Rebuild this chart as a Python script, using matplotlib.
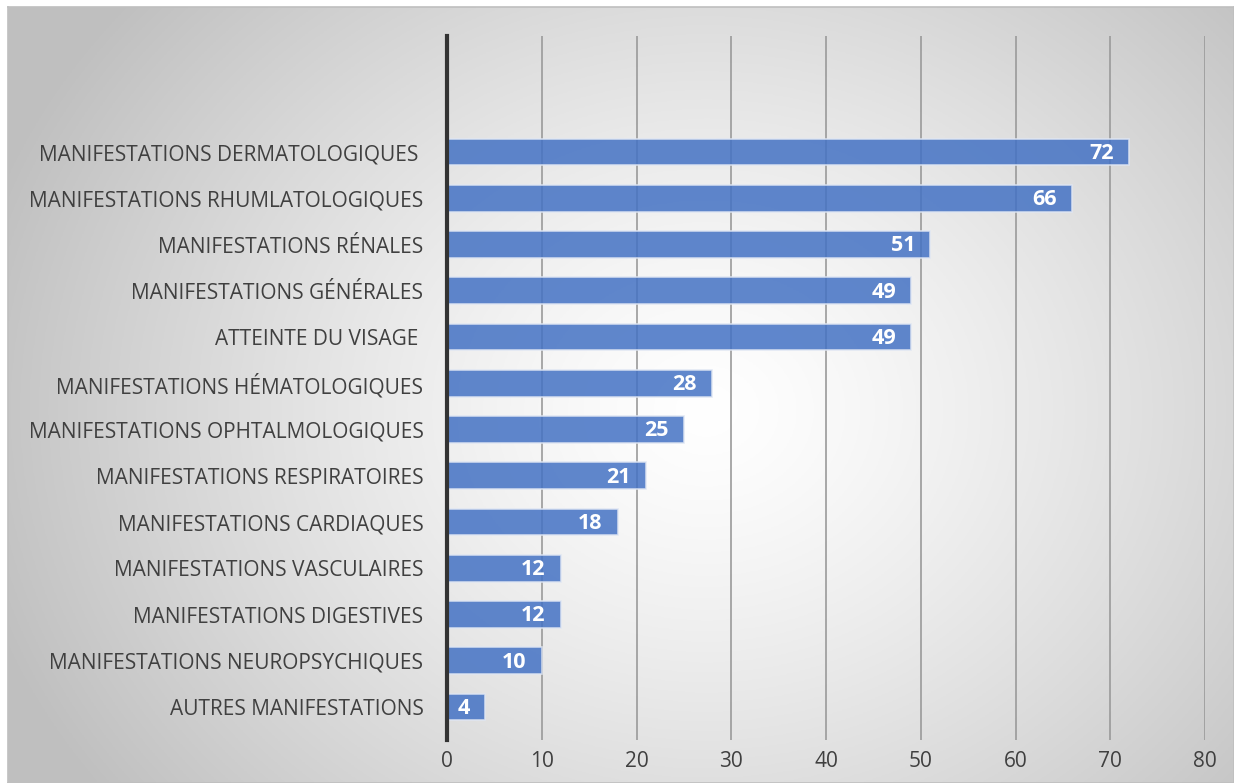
import numpy as np
import matplotlib
matplotlib.use("Agg")
import matplotlib.pyplot as plt

categories = [
    "MANIFESTATIONS DERMATOLOGIQUES ",
    "MANIFESTATIONS RHUMLATOLOGIQUES",
    "MANIFESTATIONS RÉNALES",
    "MANIFESTATIONS GÉNÉRALES",
    "ATTEINTE DU VISAGE ",
    "MANIFESTATIONS HÉMATOLOGIQUES",
    "MANIFESTATIONS OPHTALMOLOGIQUES",
    "MANIFESTATIONS RESPIRATOIRES",
    "MANIFESTATIONS CARDIAQUES",
    "MANIFESTATIONS VASCULAIRES",
    "MANIFESTATIONS DIGESTIVES",
    "MANIFESTATIONS NEUROPSYCHIQUES",
    "AUTRES MANIFESTATIONS",
]
values = [72, 66, 51, 49, 49, 28, 25, 21, 18, 12, 12, 10, 4]
xticks = [0, 10, 20, 30, 40, 50, 60, 70, 80]

W, H = 1234, 783
fig = plt.figure(figsize=(W / 100, H / 100), dpi=100)
fig.patch.set_facecolor("white")

# background radial gradient panel
bg = fig.add_axes([8 / W, 0, 1 - 8 / W, 1 - 7 / H])
bg.set_xlim(0, 1); bg.set_ylim(0, 1)
nx, ny = 400, 260
xx, yy = np.meshgrid(np.linspace(0, 1, nx), np.linspace(0, 1, ny))
cx, cy = 0.57, 0.48
r = np.sqrt(((xx - cx) * 1.0) ** 2 + ((yy - cy) * 0.75) ** 2)
r = np.clip(r / 0.62, 0, 1)
shade = 1.0 - 0.25 * r ** 1.3
img = np.dstack([shade, shade, shade])
bg.imshow(img, extent=[0, 1, 0, 1], aspect="auto", origin="lower", zorder=0)
for s in bg.spines.values():
    s.set_color("#bfbfbf")
    s.set_linewidth(1.2)
bg.set_xticks([]); bg.set_yticks([])

# main axes
x0, x1 = 447, 1205
ytop, ybot = 36, 740
ax = fig.add_axes([x0 / W, (H - ybot) / H, (x1 - x0) / W, (ybot - ytop) / H])
ax.patch.set_alpha(0)
n = len(categories)
ypos = np.arange(n)[::-1]
ax.barh(ypos, values, height=0.58, color="#4472C4", alpha=0.85,
        edgecolor="#dfe6f3", linewidth=1.2, zorder=3)
ax.set_xlim(0, 80)
ax.set_ylim(-0.713, 12 + 116 / 46.25)
ax.set_xticks(xticks)
ax.set_xticklabels([str(t) for t in xticks])
ax.set_yticks(ypos)
ax.set_yticklabels(categories)
ax.grid(axis="x", color="#9a9a9a", linewidth=1.2, zorder=1)
ax.set_axisbelow(True)
for s in ["top", "right", "bottom"]:
    ax.spines[s].set_visible(False)
ax.spines["left"].set_color("#333333")
ax.spines["left"].set_linewidth(3)
ax.spines["left"].set_zorder(5)
ax.tick_params(axis="both", length=0, colors="#404040", labelsize=15)
ax.tick_params(axis="y", pad=17)
ax.tick_params(axis="x", pad=8)
for lab in ax.get_xticklabels() + ax.get_yticklabels():
    lab.set_fontfamily("Open Sans")
    lab.set_color("#404040")

for y, v in zip(ypos, values):
    ax.text(v - 1.6, y - 0.03, str(v), ha="right", va="center", color="white",
            fontsize=15.5, fontweight="bold", fontfamily="Open Sans", zorder=6)

fig.savefig("out.png", dpi=100)
